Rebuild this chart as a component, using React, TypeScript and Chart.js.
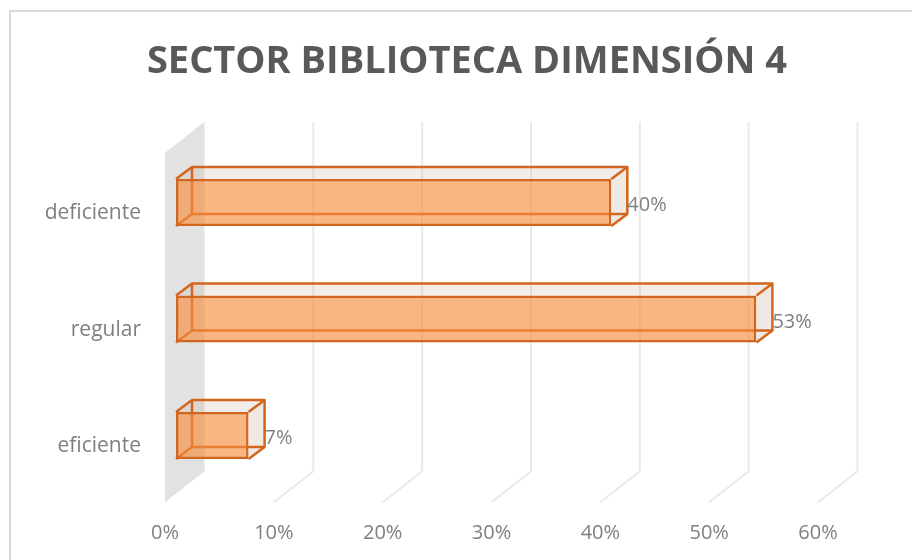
import React, { useEffect, useRef } from 'react';
import { Chart, registerables } from 'chart.js';

Chart.register(...registerables);

const titleText = 'SECTOR BIBLIOTECA DIMENSIÓN 4';
const categories = ['deficiente', 'regular', 'eficiente'];
const values = [0.4, 0.5333, 0.0667];
const valueLabels = ['40%', '53%', '7%'];
const xTickLabels = ['0%', '10%', '20%', '30%', '40%', '50%', '60%'];

const FONT = '"Open Sans", sans-serif';
const TEXT_GRAY = '#7F7F7F';
const EDGE = '#D2661E';
const EDGE_W = 2.5;
const FRONT = { x: -11, y: 8.5 };
const BACK = { x: 28.5, y: -22.5 };
const BAR_D = { x: 16, y: -12 };

function line(ctx: CanvasRenderingContext2D, pts: number[][]) {
  ctx.beginPath();
  ctx.moveTo(pts[0][0], pts[0][1]);
  for (let i = 1; i < pts.length; i++) ctx.lineTo(pts[i][0], pts[i][1]);
  ctx.stroke();
}
function poly(ctx: CanvasRenderingContext2D, pts: number[][], fill: string) {
  ctx.beginPath();
  ctx.moveTo(pts[0][0], pts[0][1]);
  for (let i = 1; i < pts.length; i++) ctx.lineTo(pts[i][0], pts[i][1]);
  ctx.closePath();
  ctx.fillStyle = fill;
  ctx.fill();
}

function barGeom(el: any) {
  const p = el.getProps(['x', 'y', 'base', 'height'], true);
  const x0 = Math.min(p.base, p.x);
  const x1 = Math.max(p.base, p.x);
  const yT = p.y - p.height / 2;
  const yB = p.y + p.height / 2;
  return { x0, x1, yT, yB, cy: p.y };
}

const threeD = {
  id: 'threeD',
  beforeDraw(chart: any) {
    const ctx = chart.ctx;
    ctx.save();
    ctx.strokeStyle = '#D9D9D9';
    ctx.lineWidth = 2;
    ctx.strokeRect(10, 11, 2000, 2000);
    ctx.fillStyle = '#595959';
    ctx.font = 'bold 38px ' + FONT;
    ctx.textAlign = 'center';
    ctx.textBaseline = 'middle';
    ctx.fillText(titleText, 467, 61.8);
    ctx.restore();
  },
  beforeDatasetsDraw(chart: any) {
    const { ctx, chartArea: a, scales } = chart;
    const xs = scales.x;
    const z = xs.getPixelForValue(0);
    const ytB = a.top + BACK.y;
    const ybB = a.bottom + BACK.y;
    const ytF = a.top + FRONT.y;
    const ybF = a.bottom + FRONT.y;
    ctx.save();
    poly(ctx, [[z + BACK.x, ytB], [z + BACK.x, ybB], [z + FRONT.x, ybF], [z + FRONT.x, ytF]], '#E2E2E2');
    ctx.strokeStyle = '#E9E9E9';
    ctx.lineWidth = 2;
    xs.ticks.forEach((t: any) => {
      if (t.value === 0) return;
      const px = xs.getPixelForValue(t.value);
      line(ctx, [[px + BACK.x, ytB], [px + BACK.x, ybB], [px + FRONT.x, ybF]]);
    });
    const meta = chart.getDatasetMeta(0);
    meta.data.forEach((el: any) => {
      const { x0, x1, yT, yB } = barGeom(el);
      poly(ctx, [[x0, yT], [x1, yT], [x1 + BAR_D.x, yT + BAR_D.y], [x0 + BAR_D.x, yT + BAR_D.y]], 'rgba(200,170,155,0.22)');
      poly(ctx, [[x1, yT], [x1 + BAR_D.x, yT + BAR_D.y], [x1 + BAR_D.x, yB + BAR_D.y], [x1, yB]], 'rgba(180,140,110,0.2)');
      ctx.strokeStyle = EDGE;
      ctx.lineWidth = EDGE_W;
      line(ctx, [[x0 + BAR_D.x, yT + BAR_D.y], [x0 + BAR_D.x, yB + BAR_D.y], [x1 + BAR_D.x, yB + BAR_D.y]]);
      line(ctx, [[x0, yB], [x0 + BAR_D.x, yB + BAR_D.y]]);
    });
    ctx.restore();
  },
  afterDatasetsDraw(chart: any) {
    const { ctx } = chart;
    const meta = chart.getDatasetMeta(0);
    ctx.save();
    ctx.strokeStyle = EDGE;
    ctx.lineWidth = EDGE_W;
    ctx.lineJoin = 'round';
    meta.data.forEach((el: any, i: number) => {
      const { x0, x1, yT, yB, cy } = barGeom(el);
      line(ctx, [[x0, yT], [x0 + BAR_D.x, yT + BAR_D.y], [x1 + BAR_D.x, yT + BAR_D.y], [x1 + BAR_D.x, yB + BAR_D.y], [x1, yB]]);
      line(ctx, [[x1, yT], [x1 + BAR_D.x, yT + BAR_D.y]]);
      ctx.fillStyle = TEXT_GRAY;
      ctx.font = '20px ' + FONT;
      ctx.textAlign = 'left';
      ctx.textBaseline = 'middle';
      ctx.fillText(valueLabels[i], x1 + BAR_D.x, cy + 3);
    });
    ctx.restore();
  },
};

export default function App() {
  const ref = useRef<HTMLCanvasElement | null>(null);
  useEffect(() => {
    if (!ref.current) return;
    const chart = new Chart(ref.current, {
      type: 'bar',
      data: {
        labels: categories,
        datasets: [
          {
            data: values,
            backgroundColor: 'rgba(246,140,60,0.64)',
            borderColor: EDGE,
            borderWidth: EDGE_W,
            borderSkipped: false,
            barPercentage: 0.4034,
            categoryPercentage: 1,
          },
        ],
      },
      options: {
        animation: false,
        responsive: false,
        indexAxis: 'y',
        layout: { padding: { left: 0, right: 83, top: 144.25, bottom: 0 } },
        plugins: {
          legend: { display: false },
          tooltip: { enabled: false },
          title: { display: false },
        },
        scales: {
          x: {
            type: 'linear',
            min: 0,
            max: 0.6,
            grid: { display: false, drawTicks: false },
            border: { display: false },
            ticks: {
              stepSize: 0.1,
              padding: 28,
              labelOffset: -11,
              color: TEXT_GRAY,
              font: { family: FONT, size: 20 },
              callback: (_v: any, i: number) => xTickLabels[i],
            },
            afterFit: (s: any) => {
              s.height = 66.25;
            },
          },
          y: {
            grid: { display: false, drawTicks: false },
            border: { display: false },
            ticks: {
              padding: 35,
              labelOffset: 11,
              color: TEXT_GRAY,
              font: { family: FONT, size: 21 },
            },
            afterFit: (s: any) => {
              s.width = 176;
            },
          },
        },
      } as any,
      plugins: [threeD],
    });
    return () => chart.destroy();
  }, []);
  return (
    <div style={{ position: 'fixed', left: 0, top: 0, width: 912, height: 560, background: '#fff' }}>
      <canvas ref={ref} width={912} height={560} style={{ display: 'block' }} />
    </div>
  );
}
